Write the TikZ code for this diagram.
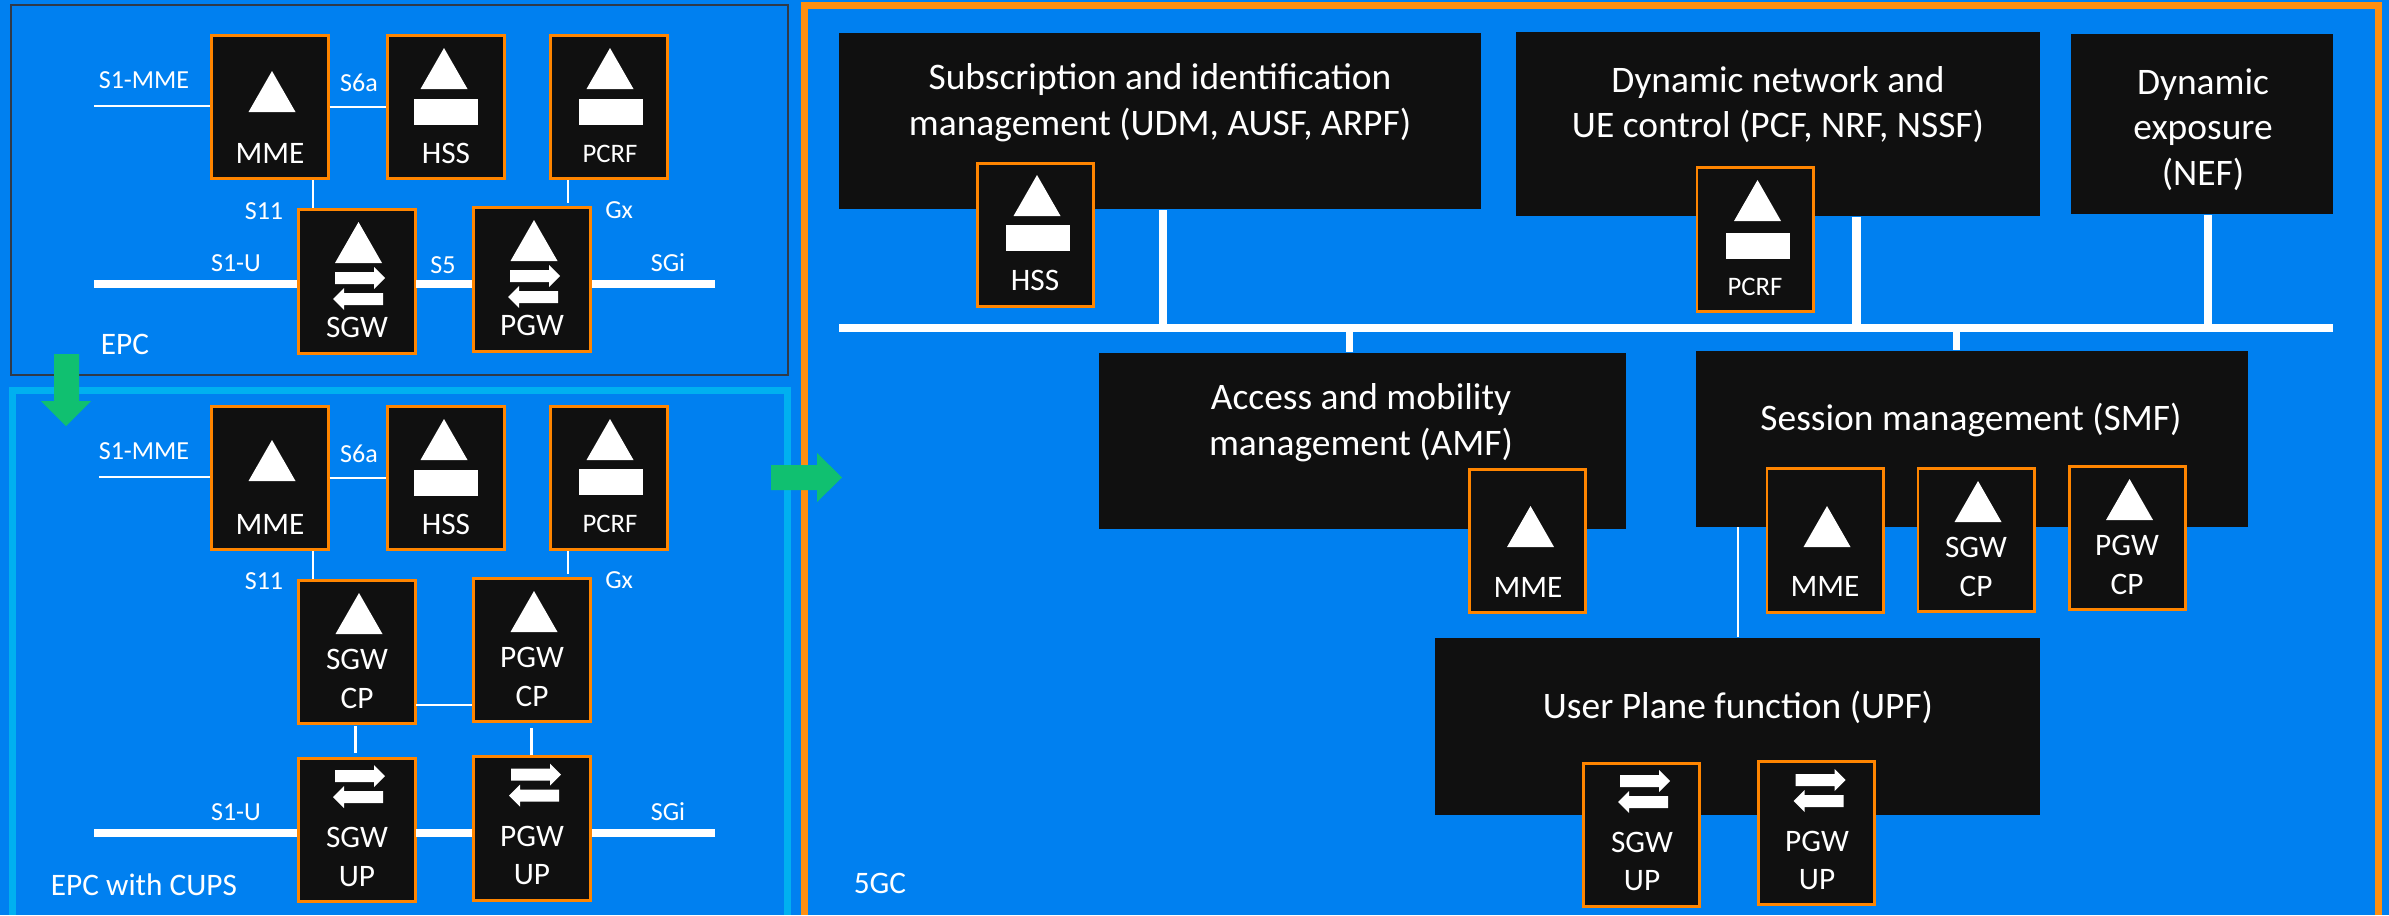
\documentclass[tikz,border=0pt]{standalone}
\usepackage{fontspec}
\setmainfont{Carlito}
\usetikzlibrary{backgrounds}

\definecolor{bgblue}{HTML}{0080F0}
\definecolor{boxblack}{HTML}{101010}
\definecolor{boxorange}{HTML}{FF8500}
\definecolor{coreorange}{HTML}{FF8F10}
\definecolor{cupsblue}{HTML}{00B0F0}
\definecolor{epcgrey}{HTML}{303A48}
\definecolor{movegreen}{HTML}{10C070}

% control plane triangle: centre x, base y
\newcommand{\ctrltri}[2]{\fill[white] (#1-23.5,#2) -- (#1+23.5,#2) -- (#1,#2-41) -- cycle;}
% database block: left x, top y
\newcommand{\dbblock}[2]{\fill[white] (#1,#2) rectangle (#1+64,#2+26);}
% user plane arrows: left x, top y of the right-going arrow
\newcommand{\userarrows}[2]{
\fill[white] (#1,#2+5) -- (#1+39,#2+5) -- (#1+39,#2) -- (#1+50,#2+11) -- (#1+39,#2+22) -- (#1+39,#2+17) -- (#1,#2+17) -- cycle;
\fill[white] (#1+48,#2+26) -- (#1+9,#2+26) -- (#1+9,#2+21) -- (#1-2,#2+32) -- (#1+9,#2+43) -- (#1+9,#2+38) -- (#1+48,#2+38) -- cycle;
}

\begin{document}
\begin{tikzpicture}[x=0.01cm, y=-0.01cm]
\tikzstyle{func}=[rectangle, fill=boxblack, draw=boxorange, line width=0.85pt, minimum width=1.16cm, minimum height=1.43cm, inner sep=0pt]
\tikzstyle{bigbox}=[rectangle, fill=boxblack, inner sep=0pt]
\tikzstyle{link}=[white, line width=0.8pt]
\tikzstyle{bus}=[white, line width=2.3pt]
\tikzstyle{bigtxt}=[white, inner sep=0pt, align=center, yshift=-0.7pt, font=\fontsize{10.65}{13}\selectfont]
\tikzstyle{midtxt}=[white, inner sep=0pt, align=center, yshift=-0.45pt, font=\fontsize{8.9}{11}\selectfont]
\tikzstyle{lbltxt}=[white, inner sep=0pt, font=\fontsize{7.4}{9}\selectfont]
\tikzstyle{pcrftxt}=[white, inner sep=0pt, font=\fontsize{7.6}{9}\selectfont]

\useasboundingbox (0,0) rectangle (2389,915);
\fill[bgblue] (0,0) rectangle (2389,915);

% Frames
\draw[epcgrey, line width=0.8pt] (11,5) rectangle (788,375);
\draw[cupsblue, line width=2pt] (12.5,915) -- (12.5,390.5) -- (787.5,390.5) -- (787.5,915);
\draw[coreorange, line width=2pt] (804.5,915) -- (804.5,5.5) -- (2378.5,5.5) -- (2378.5,915);

% EPC and EPC with CUPS, top row
\foreach \nm/\yy/\tb/\ta/\rb/\rc/\tp in {epc/107/112/89/99/99/154, cups/478/481/460/470/469/524}
{
\node at (270,\yy) [func] (mme_\nm) {};
\node at (446,\yy) [func] (hss_\nm) {};
\node at (609,\yy) [func] (pcrf_\nm) {};
\ctrltri{272}{\tb}
\ctrltri{444}{\ta}
\ctrltri{610}{\ta}
\dbblock{414}{\rb}
\dbblock{579}{\rc}
\node at (270,\yy+45) [midtxt] (mme_\nm_txt) {MME};
\node at (446,\yy+45) [midtxt] (hss_\nm_txt) {HSS};
\node at (610,\tp) [pcrftxt] (pcrf_\nm_txt) {PCRF};
}

% EPC, gateways
\node at (357,281.5) [func] (sgw_epc) {};
\node at (532,279.5) [func] (pgw_epc) {};
\ctrltri{358.5}{263}
\ctrltri{534}{261}
\userarrows{335}{267}
\userarrows{510}{265}
\node at (357,326) [midtxt] (sgw_epc_txt) {SGW};
\node at (532,324) [midtxt] (pgw_epc_txt) {PGW};

% EPC with CUPS, gateways
\node at (357,652) [func] (sgwcp_cups) {};
\node at (532,650) [func] (pgwcp_cups) {};
\node at (357,830) [func] (sgwup_cups) {};
\node at (532,828.5) [func] (pgwup_cups) {};
\ctrltri{359}{634}
\ctrltri{534}{632}
\userarrows{335}{765}
\userarrows{511}{763.5}
\node at (357,677.5) [midtxt] (sgwcp_cups_txt) {SGW\\CP};
\node at (532,675.5) [midtxt] (pgwcp_cups_txt) {PGW\\CP};
\node at (357,855.5) [midtxt] (sgwup_cups_txt) {SGW\\UP};
\node at (532,854) [midtxt] (pgwup_cups_txt) {PGW\\UP};

% EPC links
\coordinate (s1mme_a) at (94,106);
\coordinate (s11_a) at (313,180);
\coordinate (gx_a) at (568,203);
\coordinate (s1u_a) at (94,284);
\coordinate (s5_a) at (416,284);
\coordinate (sgi_a) at (715,284);
\draw[link] (s1mme_a) -- (s1mme_a -| mme_epc.west);
\draw[link] (mme_epc.east) -- (hss_epc.west);
\draw[link] (s11_a) -- (s11_a |- sgw_epc.north);
\draw[link] (gx_a |- pcrf_epc.south) -- (gx_a);
\draw[bus] (s1u_a) -- (s1u_a -| sgw_epc.west);
\draw[bus] (s5_a) -- (s5_a -| pgw_epc.west);
\draw[bus] (sgi_a) -- (sgi_a -| pgw_epc.east);

% EPC with CUPS links
\coordinate (s1mme_b) at (99,477);
\coordinate (s11_b) at (313,551);
\coordinate (gx_b) at (568,574);
\coordinate (cp_b) at (416,705);
\coordinate (sgwv_b) at (355.5,726);
\coordinate (sgwv_e) at (355.5,753);
\coordinate (pgwv_b) at (531.5,728);
\coordinate (s1u_b) at (94,833);
\coordinate (s5_b) at (416,833);
\coordinate (sgi_b) at (715,833);
\draw[link] (s1mme_b) -- (s1mme_b -| mme_cups.west);
\draw[link] (mme_cups.east) -- (hss_cups.west);
\draw[link] (s11_b) -- (s11_b |- sgwcp_cups.north);
\draw[link] (gx_b |- pcrf_cups.south) -- (gx_b);
\draw[link] (cp_b) -- (cp_b -| pgwcp_cups.west);
\draw[link] (sgwv_b) -- (sgwv_e);
\draw[link] (pgwv_b) -- (pgwv_b |- pgwup_cups.north);
\draw[bus] (s1u_b) -- (s1u_b -| sgwup_cups.west);
\draw[bus] (s5_b) -- (s5_b -| pgwup_cups.west);
\draw[bus] (sgi_b) -- (sgi_b -| pgwup_cups.east);

% Link names
\foreach \nm/\xx/\ya/\yb/\tx in {s1mme/144/80/451/S1-MME, s6a/359/83/454/S6a, s11/264/211/581/S11, gx/619/210/580/Gx, s1u/236/263/812/S1-U, sgi/668/263/812/SGi}
{
\node at (\xx,\ya) [lbltxt] (\nm_epc_txt) {\tx};
\node at (\xx,\yb) [lbltxt] (\nm_cups_txt) {\tx};
}
\node at (443,265) [lbltxt] (s5_epc_txt) {S5};
\node at (125,343) [midtxt] (epc_txt) {EPC};
\node at (144,883) [midtxt] (cups_txt) {EPC with CUPS};
\node at (880,882) [midtxt] (core_txt) {5GC};

% 5GC function groups
\node at (1160,121) [bigbox, minimum width=6.42cm, minimum height=1.76cm] (subs) {};
\node at (1778,124) [bigbox, minimum width=5.24cm, minimum height=1.84cm] (dyn) {};
\node at (2202,124) [bigbox, minimum width=2.62cm, minimum height=1.80cm] (nef) {};
\node at (1362.5,441) [bigbox, minimum width=5.27cm, minimum height=1.76cm] (amf) {};
\node at (1972,439) [bigbox, minimum width=5.52cm, minimum height=1.76cm] (smf) {};
\node at (1737.5,726.5) [bigbox, minimum width=6.05cm, minimum height=1.77cm] (upf) {};
\node at (1160,100) [bigtxt] (subs_txt) {Subscription and identification\\management (UDM, AUSF, ARPF)};
\node at (1778,102) [bigtxt] (dyn_txt) {Dynamic network and\\UE control (PCF, NRF, NSSF)};
\node at (2203,127) [bigtxt] (nef_txt) {Dynamic\\exposure\\(NEF)};
\node at (1361,420) [bigtxt] (amf_txt) {Access and mobility\\management (AMF)};
\node at (1971,418) [bigtxt] (smf_txt) {Session management (SMF)};
\node at (1738,705) [bigtxt] (upf_txt) {User Plane function (UPF)};

% 5GC bus
\coordinate (bus_w) at (839,328);
\coordinate (bus_e) at (2333,328);
\coordinate (tap_subs) at (1163,328);
\coordinate (tap_dyn) at (1856.5,328);
\coordinate (tap_nef) at (2208,328);
\coordinate (tap_amf) at (1349,328);
\coordinate (tap_smf) at (1956.5,328);
\coordinate (smf_upf) at (1738,527);
\draw[bus] (bus_w) -- (bus_e);
\draw[bus] (tap_subs) -- (tap_subs |- subs.south);
\draw[bus] (tap_dyn) -- (tap_dyn |- dyn.south);
\draw[bus] (tap_nef) -- (tap_nef |- nef.south);
\draw[bus, line width=2pt] (tap_amf) -- (tap_amf |- amf.north);
\draw[bus, line width=2pt] (tap_smf) -- (tap_smf |- smf.north);
\draw[link] (smf_upf) -- (smf_upf |- upf.north);

% 5GC functions
\node at (1035.5,235) [func] (hss_core) {};
\node at (1755,239.5) [func] (pcrf_core) {};
\node at (1527.5,541) [func] (mme_amf) {};
\node at (1825,540.5) [func] (mme_smf) {};
\node at (1976,540) [func] (sgw_smf) {};
\node at (2127.5,538) [func] (pgw_smf) {};
\node at (1641.5,835) [func] (sgw_upf) {};
\node at (1816.5,833) [func] (pgw_upf) {};
\ctrltri{1037}{216}
\ctrltri{1757.5}{221}
\ctrltri{1530.5}{547}
\ctrltri{1827}{547}
\ctrltri{1978}{522}
\ctrltri{2129.5}{520}
\dbblock{1006}{225}
\dbblock{1726}{233}
\userarrows{1620}{770}
\userarrows{1795.5}{769}
\node at (1035,279) [midtxt] (hss_core_txt) {HSS};
\node at (1755,287) [pcrftxt] (pcrf_core_txt) {PCRF};
\node at (1528,586) [midtxt] (mme_amf_txt) {MME};
\node at (1825,585) [midtxt] (mme_smf_txt) {MME};
\node at (1976,565.5) [midtxt] (sgw_smf_txt) {SGW\\CP};
\node at (2127,563.5) [midtxt] (pgw_smf_txt) {PGW\\CP};
\node at (1642,860) [midtxt] (sgw_upf_txt) {SGW\\UP};
\node at (1817,859) [midtxt] (pgw_upf_txt) {PGW\\UP};

% Moves
\fill[movegreen] (54,354) -- (79,354) -- (79,401) -- (91,401) -- (66,426) -- (41,401) -- (54,401) -- cycle;
\fill[movegreen] (771,465) -- (817,465) -- (817,453) -- (842,477.5) -- (817,502) -- (817,490) -- (771,490) -- cycle;
\end{tikzpicture}
\end{document}
